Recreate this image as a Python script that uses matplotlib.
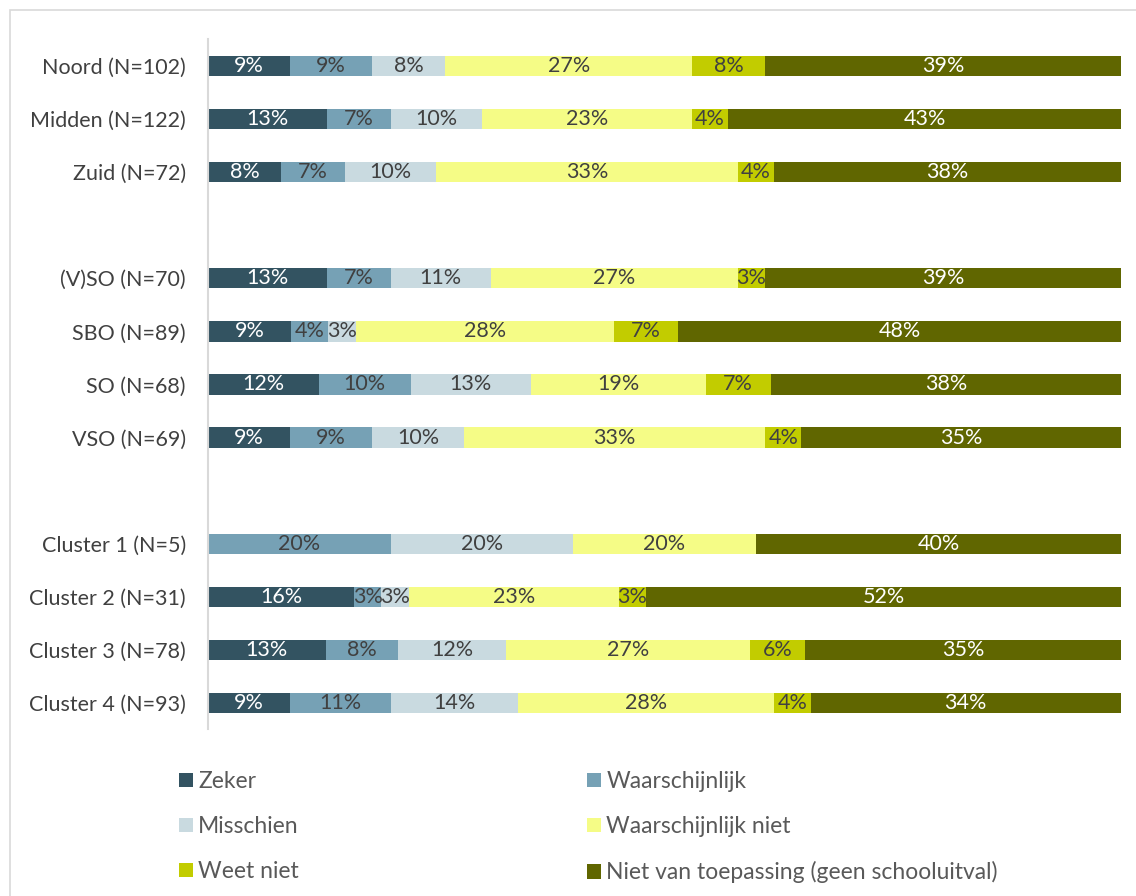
import numpy as np
import matplotlib
matplotlib.use("Agg")
import matplotlib.pyplot as plt
from matplotlib.patches import Patch, Rectangle

plt.rcParams['font.family'] = ['Lato', 'DejaVu Sans']

# Daten ------------------------------------------------------------------------
categories = ['Noord (N=102)', 'Midden (N=122)', 'Zuid (N=72)', '',
              '(V)SO (N=70)', 'SBO (N=89)', 'SO (N=68)', 'VSO (N=69)', '',
              'Cluster 1 (N=5)', 'Cluster 2 (N=31)', 'Cluster 3 (N=78)', 'Cluster 4 (N=93)']

series = ['Zeker', 'Waarschijnlijk', 'Misschien', 'Waarschijnlijk niet',
          'Weet niet', 'Niet van toepassing (geen schooluitval)']

zeker          = [9, 13, 8, 0, 13, 9, 12, 9, 0, 0, 16, 13, 9]
waarschijnlijk = [9, 7, 7, 0, 7, 4, 10, 9, 0, 20, 3, 8, 11]
misschien      = [8, 10, 10, 0, 11, 3, 13, 10, 0, 20, 3, 12, 14]
waarsch_niet   = [27, 23, 33, 0, 27, 28, 19, 33, 0, 20, 23, 27, 28]
weet_niet      = [8, 4, 4, 0, 3, 7, 7, 4, 0, 0, 3, 6, 4]
niet_toep      = [39, 43, 38, 0, 39, 48, 38, 35, 0, 40, 52, 35, 34]

colors = ['#335361', '#76A1B5', '#C9DAE0', '#F5FC86', '#C2CC00', '#606600']
text_colors = ['white', '#404040', '#404040', '#404040', '#404040', 'white']

# Plot -------------------------------------------------------------------------
data = np.array([zeker, waarschijnlijk, misschien, waarsch_niet, weet_niet, niet_toep], dtype=float)
totals = data.sum(axis=0)
totals[totals == 0] = 1
shares = data / totals * 100

fig = plt.figure(figsize=(11.36, 8.96), dpi=100)
ax = fig.add_axes([208 / 1136, 1 - 729.5 / 896, 913 / 1136, 690 / 896])

y = np.arange(len(categories))
left = np.zeros(len(categories))
for i, name in enumerate(series):
    ax.barh(y, shares[i], left=left, height=0.38, color=colors[i], label=name)
    for j in range(len(categories)):
        if data[i, j] > 0:
            ax.text(left[j] + shares[i, j] / 2, y[j], f'{int(data[i, j])}%',
                    ha='center', va='center', fontsize=15.5, color=text_colors[i])
    left += shares[i]

ax.set_xlim(0, 100)
ax.set_ylim(len(categories) - 0.5, -0.5)
ax.set_yticks([k for k, c in enumerate(categories) if c])
ax.set_yticklabels([c for c in categories if c], fontsize=15.5, color='#404040')
ax.tick_params(axis='y', length=0, pad=16)
ax.set_xticks([])
for s in ['top', 'right', 'bottom']:
    ax.spines[s].set_visible(False)
ax.spines['left'].set_color('#D9D9D9')
ax.spines['left'].set_linewidth(1.5)

# Legende in zwei Spalten
handles = [Patch(facecolor=c) for c in colors]
leg_kw = dict(frameon=False, fontsize=16.5, handlelength=0.62, handleheight=0.62,
              handletextpad=0.22, labelspacing=1.05, labelcolor='#595959',
              loc='upper left', borderpad=0, borderaxespad=0)
leg1 = fig.legend([handles[0], handles[2], handles[4]], [series[0], series[2], series[4]],
                  bbox_to_anchor=(179 / 1136, 1 - 771 / 896), **leg_kw)
leg2 = fig.legend([handles[1], handles[3], handles[5]], [series[1], series[3], series[5]],
                  bbox_to_anchor=(587 / 1136, 1 - 771 / 896), **leg_kw)

# Rahmen des Diagrammbereichs
fig.patches.append(Rectangle((10 / 1136, -0.1), 1.2, 1 - 10 / 896 + 0.1,
                             transform=fig.transFigure, fill=False,
                             edgecolor='#D9D9D9', linewidth=1.2))

fig.savefig('out.png', dpi=100)
